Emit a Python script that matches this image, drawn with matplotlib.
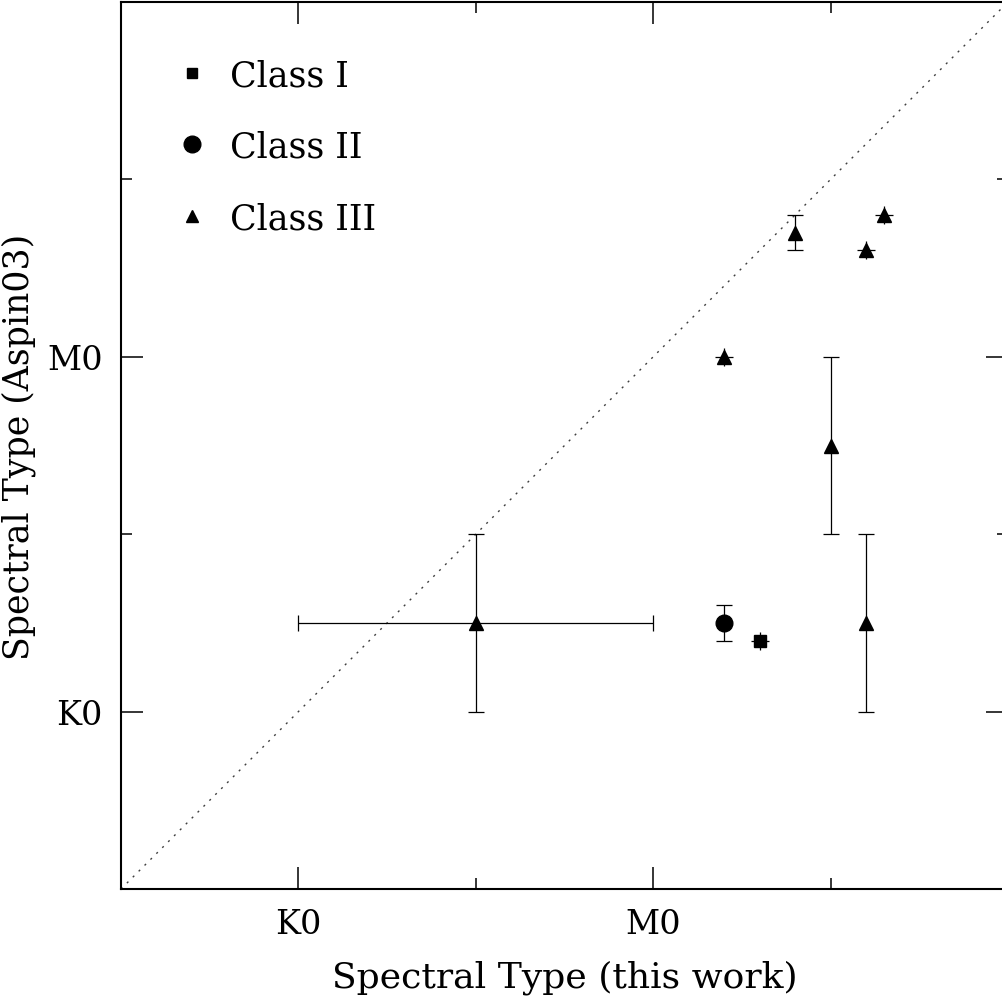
import matplotlib.pyplot as plt
from matplotlib.lines import Line2D

# spectral subclass scale: K0 = 0, K5 = 5, M0 = 10, M5 = 15
tick_pos = [0, 10]
tick_labels = ['K0', 'M0']
minor_pos = [5, 15]

# Class I
c1_x = [13.0]
c1_y = [2.0]
c1_xerr = [0.25]
c1_yerr = [0.25]

# Class II
c2_x = [12.0]
c2_y = [2.5]
c2_xerr = [0.0]
c2_yerr = [0.5]

# Class III
c3_x = [5.0, 12.0, 14.0, 15.0, 16.0, 16.0, 16.5]
c3_y = [2.5, 10.0, 13.5, 7.5, 2.5, 13.0, 14.0]
c3_xerr = [5.0, 0.25, 0.0, 0.0, 0.0, 0.25, 0.25]
c3_yerr = [2.5, 0.25, 0.5, 2.5, 2.5, 0.25, 0.25]

plt.rcParams['font.family'] = 'DejaVu Serif'

fig = plt.figure(figsize=(10.03, 10.04), dpi=100)
ax = fig.add_axes([121/1003, 114/1004, 887/1003, 887/1004])


def draw(xs, ys, xe, ye, marker, ms):
    for x, y, dx, dy in zip(xs, ys, xe, ye):
        cap = 6 if max(dx, dy) >= 0.5 else 0
        ax.errorbar(x, y, xerr=dx if dx > 0 else None, yerr=dy if dy > 0 else None,
                    fmt=marker, color='black', ms=ms, elinewidth=0.9,
                    capsize=cap, capthick=0.9, zorder=3)


draw(c1_x, c1_y, c1_xerr, c1_yerr, 's', 8)
draw(c2_x, c2_y, c2_xerr, c2_yerr, 'o', 12)
draw(c3_x, c3_y, c3_xerr, c3_yerr, '^', 10)

# one-to-one line
ax.plot([-5, 20], [-5, 20], linestyle=(0, (1.5, 4.5)), color='0.25', linewidth=1.0)

ax.set_xlim(-5, 20)
ax.set_ylim(-5, 20)
ax.set_xticks(tick_pos)
ax.set_xticklabels(tick_labels)
ax.set_yticks(tick_pos)
ax.set_yticklabels(tick_labels)
ax.set_xticks(minor_pos, minor=True)
ax.set_yticks(minor_pos, minor=True)
ax.tick_params(which='both', direction='in', top=True, right=True, width=1.1)
ax.tick_params(which='major', length=16, labelsize=24)
ax.tick_params(which='minor', length=8)
ax.tick_params(axis='x', pad=14)
ax.tick_params(axis='y', pad=13)
for s in ax.spines.values():
    s.set_linewidth(1.5)

ax.set_xlabel('Spectral Type (this work)', fontsize=26, labelpad=14)
ax.set_ylabel('Spectral Type (Aspin03)', fontsize=25, labelpad=8)

handles = [
    Line2D([], [], marker='s', color='black', linestyle='none', ms=7),
    Line2D([], [], marker='o', color='black', linestyle='none', ms=12),
    Line2D([], [], marker='^', color='black', linestyle='none', ms=8),
]
ax.legend(handles, ['Class I', 'Class II', 'Class III'], loc='upper left',
          bbox_to_anchor=(0.025, 0.972), frameon=False, fontsize=25,
          handlelength=1.0, handletextpad=0.6, labelspacing=1.08, numpoints=1)

plt.savefig('out.png', dpi=100)
